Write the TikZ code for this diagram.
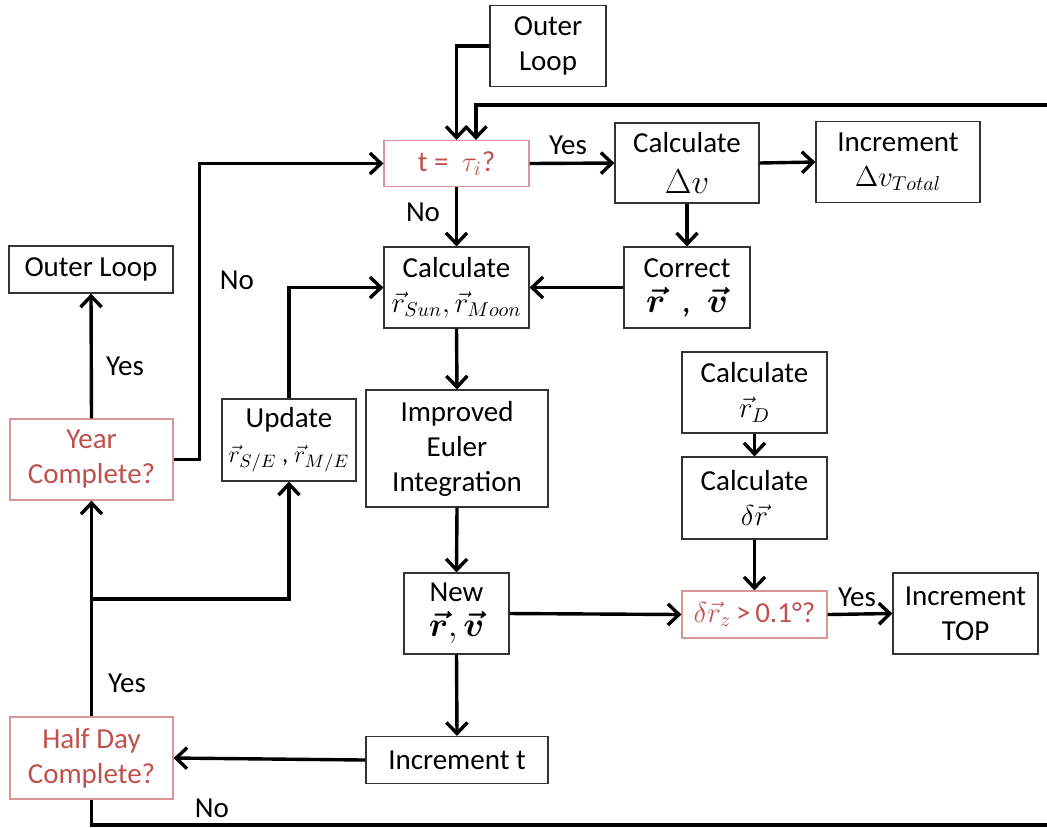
\documentclass[tikz,border=0pt]{standalone}
\usepackage{fontspec}
\setmainfont{Carlito}
\usepackage{bm}
\usetikzlibrary{arrows.meta}
\definecolor{askred}{HTML}{C0504D}
\tikzstyle{process} = [rectangle, draw=black!80, line width=0.6pt, text centered, align=center, inner sep=1pt, font=\fontsize{14.5}{17.5}\selectfont]
\tikzstyle{decision} = [process, draw=askred!60, text=askred]
\tikzstyle{arrow} = [line width=1.7pt, -{Straight Barb[length=5.5pt,width=10.5pt]}]
\tikzstyle{answer} = [font=\fontsize{14.5}{17.5}\selectfont]

\begin{document}
\begin{tikzpicture}[x=0.5pt, y=-0.5pt]
\useasboundingbox (0,0) rectangle (1047,827);
\node (outerA) [process, minimum width=58pt, minimum height=40.5pt] at (548,46) {Outer\\Loop};
\node (tcheck) [decision, minimum width=72.5pt, minimum height=23pt] at (456.5,163.5) {t =\ \ $\tau_i$?};
\node (calcdv) [process, minimum width=72pt, minimum height=40pt] at (687,163) {Calculate\\[3pt]{\fontsize{18}{18}\selectfont$\Delta v$}};
\node (incdv) [process, minimum width=82pt, minimum height=40.5pt] at (898,162) {Increment\\$\Delta v_{Total}$};
\node (calcsun) [process, minimum width=72.5pt, minimum height=40.5pt] at (456.5,287.5) {Calculate\\$\vec{r}_{Sun},\vec{r}_{Moon}$};
\node (correct) [process, minimum width=63pt, minimum height=40.5pt] at (687,287.5) {Correct\\{\fontsize{18}{18}\selectfont$\bm{\vec{r}}$ \ , \ $\bm{\vec{v}}$}};
\node (outerB) [process, minimum width=82pt, minimum height=23.5pt] at (91,269.5) {Outer Loop};
\node (year) [decision, minimum width=81.5pt, minimum height=40.5pt] at (91.5,459.5) {Year\\Complete?};
\node (update) [process, minimum width=67pt, minimum height=41pt] at (289,440) {Update\\{\fontsize{12.5}{15}\selectfont$\vec{r}_{S/E}$ , $\vec{r}_{M/E}$}};
\node (euler) [process, minimum width=91pt, minimum height=58.5pt] at (457,448.5) {Improved\\Euler\\Integration};
\node (newrv) [process, minimum width=52.5pt, minimum height=40.5pt] at (456.5,613.5) {New\\{\fontsize{18}{18}\selectfont$\bm{\vec{r}}, \bm{\vec{v}}$}};
\node (calcrd) [process, minimum width=72.5pt, minimum height=40.5pt] at (754.5,392.5) {Calculate\\$\vec{r}_D$};
\node (calcdr) [process, minimum width=72.5pt, minimum height=41pt] at (754.5,498) {Calculate\\$\delta\vec{r}$};
\node (test) [decision, minimum width=72.5pt, minimum height=23.5pt] at (754.5,614.5) {$\delta\vec{r}_z$\,>\,0.1°?};
\node (inctop) [process, minimum width=72.5pt, minimum height=40.5pt] at (965.5,613.5) {Increment\\TOP};
\node (inct) [process, minimum width=91pt, minimum height=23.5pt] at (457,760) {Increment t};
\node (halfday) [decision, minimum width=81.5pt, minimum height=41pt] at (91.5,758) {Half Day\\Complete?};

\node (yesdv) [answer] at (568,145) {Yes};
\node (nocalc) [answer] at (423,212) {No};
\node (yesout) [answer] at (125,366) {Yes};
\node (noyear) [answer] at (237,280) {No};
\node (yeshalf) [answer] at (127,683) {Yes};
\node (nohalf) [answer] at (212,808) {No};
\node (yestop) [answer] at (857,597) {Yes};

\coordinate (split) at (91.5,599);
\coordinate (loopbr) at (1052,825);
\coordinate (looptr) at (1052,105);

\draw [arrow] (outerA.west) -| (tcheck.north);
\draw [arrow] (tcheck.east) -- (calcdv.west);
\draw [arrow] (calcdv.east) -- (incdv.west);
\draw [arrow] (calcdv.south) -- (correct.north);
\draw [arrow] (correct.west) -- (calcsun.east);
\draw [arrow] (tcheck.south) -- (calcsun.north);
\draw [arrow] (calcsun.south) -- (euler.north);
\draw [arrow] (euler.south) -- (newrv.north);
\draw [arrow] (newrv.east) -- (test.west);
\draw [arrow] (calcrd.south) -- (calcdr.north);
\draw [arrow] (calcdr.south) -- (test.north);
\draw [arrow] (test.east) -- (inctop.west);
\draw [arrow] (newrv.south) -- (inct.north);
\draw [arrow] (inct.west) -- (halfday.east);
\draw [arrow] (halfday.north) -- (year.south);
\draw [arrow] (split) -| (update.south);
\draw [arrow] (update.north) |- (calcsun.west);
\draw [arrow] (year.north) -- (outerB.south);
\draw [arrow] (year.east) -- ++(26,0) |- (tcheck.west);
\draw [arrow] (halfday.south) |- (loopbr) -- (looptr) -| ([xshift=9.75pt]tcheck.north);
\end{tikzpicture}
\end{document}
